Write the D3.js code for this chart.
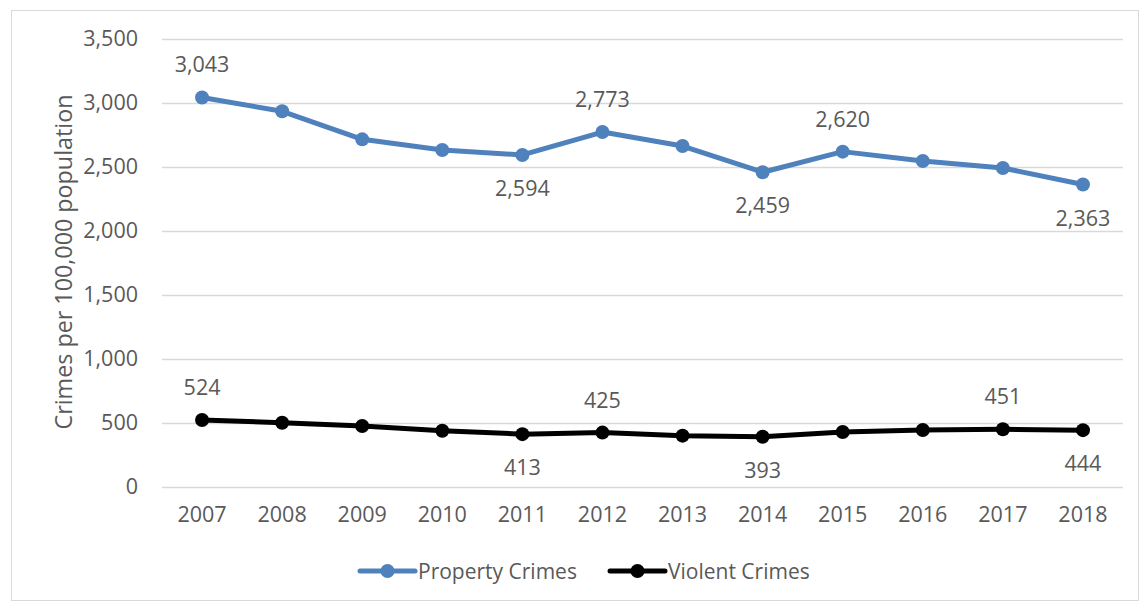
<!DOCTYPE html>
<html>
<head>
<meta charset="utf-8">
<script src="https://cdn.jsdelivr.net/npm/d3@7"></script>
<style>
  html, body { margin: 0; padding: 0; background: #fff; }
  svg { display: block; }
  text { font-family: "Open Sans", "Noto Sans", sans-serif; fill: #595959; }
</style>
</head>
<body>
<svg id="chart" width="1141" height="602"></svg>
<script>
// Crimes per 100,000 population, 2007–2018
const years = ["2007","2008","2009","2010","2011","2012","2013","2014","2015","2016","2017","2018"];
const propertyCrimes = [3043, 2935, 2716, 2633, 2594, 2773, 2664, 2459, 2620, 2547, 2492, 2363];
const violentCrimes  = [524, 502, 476, 440, 413, 425, 401, 393, 430, 445, 451, 444];
const yTicks = [0, 500, 1000, 1500, 2000, 2500, 3000, 3500];
// which points carry a value label, and on which side
const propertyLabels = { "2007": "above", "2011": "below", "2012": "above", "2014": "below", "2015": "above", "2018": "below" };
const violentLabels  = { "2007": "above", "2011": "below", "2012": "above", "2014": "below", "2017": "above", "2018": "below" };

const svg = d3.select("#chart");
const W = 1141, H = 602;
const plot = { left: 162, right: 1123, top: 39, bottom: 487 };

// outer frame
svg.append("rect")
  .attr("x", 11.5).attr("y", 10.5)
  .attr("width", W - 14).attr("height", H - 12)
  .attr("fill", "#fff").attr("stroke", "#d9d9d9").attr("stroke-width", 1);

const x = d3.scaleBand().domain(years).range([plot.left, plot.right]);
const y = d3.scaleLinear().domain([0, 3500]).range([plot.bottom, plot.top]);
const cx = d => x(d) + x.bandwidth() / 2;

// gridlines + y axis labels
const yAxis = d3.axisLeft(y).tickValues(yTicks).tickFormat(d3.format(",")).tickSize(-(plot.right - plot.left)).tickPadding(24);
const gy = svg.append("g").attr("transform", `translate(${plot.left},0)`).call(yAxis);
gy.select(".domain").remove();
gy.selectAll(".tick line").attr("stroke", "#d9d9d9").attr("stroke-width", 1.3);
gy.selectAll(".tick text").attr("font-size", 21.5).style("fill", "#595959");

// x axis labels
const xAxis = d3.axisBottom(x).tickSize(0).tickPadding(20);
const gx = svg.append("g").attr("transform", `translate(0,${plot.bottom})`).call(xAxis);
gx.select(".domain").remove();
gx.selectAll(".tick text").attr("font-size", 21.5).style("fill", "#595959");

// y axis title
svg.append("text")
  .attr("transform", `translate(72,262) rotate(-90)`)
  .attr("text-anchor", "middle")
  .attr("font-size", 23.3)
  .text("Crimes per 100,000 population");

const series = [
  { name: "Property Crimes", values: propertyCrimes, color: "#4f81bd", labels: propertyLabels },
  { name: "Violent Crimes",  values: violentCrimes,  color: "#000000", labels: violentLabels }
];

const line = d3.line().x(d => cx(d.year)).y(d => y(d.value));

series.forEach(s => {
  const pts = years.map((yr, i) => ({ year: yr, value: s.values[i] }));
  svg.append("path").datum(pts)
    .attr("d", line).attr("fill", "none")
    .attr("stroke", s.color).attr("stroke-width", 5).attr("stroke-linejoin", "round");
  svg.append("g").selectAll("circle").data(pts).join("circle")
    .attr("cx", d => cx(d.year)).attr("cy", d => y(d.value)).attr("r", 7)
    .attr("fill", s.color);
  svg.append("g").selectAll("text").data(pts.filter(d => s.labels[d.year])).join("text")
    .attr("x", d => cx(d.year))
    .attr("y", d => y(d.value) + (s.labels[d.year] === "above" ? -25 : 41))
    .attr("text-anchor", "middle")
    .attr("font-size", 21.5)
    .text(d => d3.format(",")(d.value));
});

// legend
const legend = [
  { name: "Property Crimes", color: "#4f81bd", x: 360 },
  { name: "Violent Crimes",  color: "#000000", x: 610 }
];
const lg = svg.append("g").selectAll("g").data(legend).join("g")
  .attr("transform", d => `translate(${d.x},571)`);
lg.append("line").attr("x1", 0).attr("x2", 55).attr("y1", 0).attr("y2", 0)
  .attr("stroke", d => d.color).attr("stroke-width", 5).attr("stroke-linecap", "round");
lg.append("circle").attr("cx", 27.5).attr("cy", 0).attr("r", 7).attr("fill", d => d.color);
lg.append("text").attr("x", 58).attr("y", 7.5).attr("font-size", 21).text(d => d.name);
</script>
</body>
</html>
